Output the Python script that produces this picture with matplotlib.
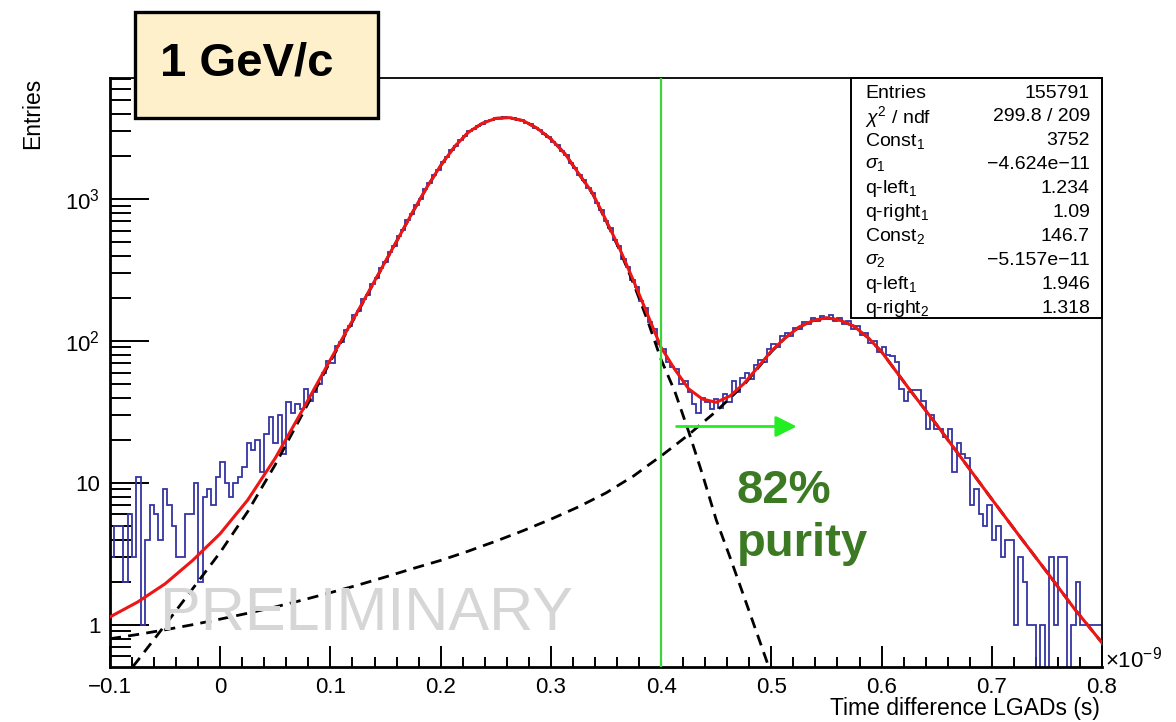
# Time difference between two LGADs at 1 GeV/c, log-scale histogram with fit
import numpy as np
import matplotlib.pyplot as plt
from matplotlib.patches import Rectangle
from matplotlib.ticker import FixedLocator, MultipleLocator, LogLocator, NullFormatter

plt.rcParams['font.family'] = ['Liberation Sans', 'DejaVu Sans']
plt.rcParams['mathtext.fontset'] = 'custom'
plt.rcParams['mathtext.rm'] = 'Liberation Sans'
plt.rcParams['mathtext.it'] = 'Liberation Sans:italic'
plt.rcParams['mathtext.bf'] = 'Liberation Sans:bold'

# histogram: 225 bins of 0.004 (x1e-9 s) between -0.1 and 0.8
x_lo, x_hi = -0.1, 0.8
counts = [
    3, 5, 5, 2, 6, 3, 11, 1, 4, 7,
    6, 4, 9, 7, 5, 3, 3, 6, 6, 10,
    2, 8, 9, 7, 11, 14, 10, 8, 10, 11,
    13, 19, 17, 20, 12, 22, 29, 19, 30, 16,
    37, 31, 36, 33, 46, 38, 44, 50, 60, 72,
    70, 92, 98, 119, 127, 152, 163, 197, 212, 254,
    276, 328, 358, 422, 466, 547, 605, 708, 785, 912,
    1008, 1168, 1287, 1470, 1610, 1823, 1975, 2210, 2380, 2605,
    2770, 3010, 3098, 3290, 3380, 3530, 3575, 3722, 3705, 3768,
    3716, 3724, 3618, 3596, 3430, 3352, 3170, 3068, 2855, 2748,
    2530, 2391, 2178, 2041, 1805, 1662, 1466, 1356, 1198, 1104,
    933, 830, 701, 622, 517, 463, 378, 333, 270, 239,
    191, 170, 135, 121, 95, 88, 71, 66, 64, 50,
    52, 44, 36, 31, 40, 37, 33, 39, 34, 42,
    37, 52, 44, 55, 60, 54, 68, 74, 71, 88,
    95, 91, 108, 113, 109, 124, 121, 136, 131, 146,
    138, 150, 143, 152, 139, 146, 132, 138, 122, 127,
    110, 114, 97, 100, 84, 90, 80, 78, 71, 46,
    38, 44, 45, 45, 38, 24, 30, 24, 24, 21,
    24, 12, 19, 16, 15, 7, 9, 6, 5, 7,
    4, 5, 3, 4, 4, 1, 3, 2, 1, 1,
    0, 1, 0, 3, 1, 3, 3, 0, 1, 2,
    1, 1, 1, 1, 1,
]

# fit curves
fit_x = [-0.1, -0.075, -0.05, -0.025, 0.0, 0.025, 0.05, 0.075, 0.1, 0.125,
         0.15, 0.175, 0.1875, 0.2, 0.2125, 0.225, 0.2375, 0.25, 0.2625, 0.275,
         0.2875, 0.3, 0.3125, 0.325, 0.3375, 0.35, 0.3625, 0.375, 0.3875, 0.4,
         0.4125, 0.425, 0.4375, 0.45, 0.4625, 0.475, 0.4875, 0.5, 0.5125, 0.525,
         0.5375, 0.55, 0.5625, 0.575, 0.5875, 0.6, 0.625, 0.65, 0.675, 0.7,
         0.725, 0.75, 0.775, 0.8]
fit_total = [1.14, 1.45, 1.95, 2.85, 4.4, 7.6, 15, 33, 74, 163,
             365, 820, 1210, 1720, 2330, 2950, 3400, 3700, 3740, 3560,
             3150, 2650, 2100, 1520, 1110, 710, 445, 265, 155, 90,
             63, 46, 39, 37, 41, 50, 65, 85, 105, 125,
             139, 146, 140, 127, 106, 84, 46, 25.7, 14.1, 7.7,
             4.24, 2.36, 1.30, 0.75]
# first component (main peak), drawn up to x = 0.5
comp1 = [0.32, 0.56, 1.0, 1.8, 3.25, 6.3, 13.5, 31, 72, 161,
         363, 818, 1207, 1717, 2327, 2947, 3397, 3696, 3736, 3556,
         3145, 2645, 2094, 1513, 1102, 701, 435, 253, 141, 74,
         44, 23, 11.5, 5.5, 3.0, 1.6, 0.85, 0.45]
# second component (late peak)
comp2 = [0.80, 0.857, 0.925, 1.005, 1.10, 1.21, 1.34, 1.50, 1.69, 1.91,
         2.18, 2.50, 2.67, 2.85, 3.07, 3.31, 3.59, 3.89, 4.24, 4.62,
         5.07, 5.56, 6.14, 6.79, 7.6, 8.51, 9.77, 11.2, 13.2, 15.5,
         18.4, 21.9, 26.5, 32, 39.6, 49, 64, 84, 105, 125,
         139, 146, 140, 127, 106, 84, 46, 25.7, 14.1, 7.7,
         4.24, 2.36, 1.30, 0.75]

cut = 0.4
arrow_from, arrow_to, arrow_y = 0.414, 0.523, 25

stat_names = ['Entries', r'$\chi^{2}$ / ndf', r'Const$_{1}$', r'$\sigma_{1}$', r'q-left$_{1}$',
              r'q-right$_{1}$', r'Const$_{2}$', r'$\sigma_{2}$', r'q-left$_{1}$', r'q-right$_{2}$']
stat_values = ['155791', '299.8 / 209', '3752', '\u22124.624e\u221211', '1.234',
               '1.09', '146.7', '\u22125.157e\u221211', '1.946', '1.318']

W, H = 1176, 722


def px(x, y):
    # pixel position (from top-left) -> figure fraction
    return x / W, 1 - y / H


fig = plt.figure(figsize=(W / 100, H / 100), dpi=100)
ax = fig.add_axes([110 / W, 55 / H, 992 / W, 589 / H])

edges = np.linspace(x_lo, x_hi, len(counts) + 1)

fig.text(*px(160, 630), 'PRELIMINARY', fontsize=44, color='#d6d6d6', zorder=0.5,
         ha='left', va='baseline')
ax.set_facecolor('none')
ax.stairs(counts, edges, baseline=None, color='#3434a4', lw=1.3, zorder=2)
ax.plot(fit_x[:len(comp1)], comp1, color='black', lw=2.0, ls=(0, (4, 2.6)), zorder=3)
ax.plot(fit_x, comp2, color='black', lw=2.0, ls=(0, (4, 2.6)), zorder=3)
ax.plot(fit_x, fit_total, color='#ee1515', lw=2.2, zorder=4)
ax.axvline(cut, color='#3bd43b', lw=1.6, zorder=5)
ax.annotate('', xy=(arrow_to, arrow_y), xytext=(arrow_from, arrow_y), zorder=6,
            arrowprops=dict(arrowstyle='-|>', color='#22ee22', lw=2.0, mutation_scale=32,
                            shrinkA=0, shrinkB=0))

ax.set_yscale('log')
ax.set_xlim(x_lo, x_hi)
ax.set_ylim(0.506, 7115)

xt = [-0.1, 0, 0.1, 0.2, 0.3, 0.4, 0.5, 0.6, 0.7, 0.8]
ax.xaxis.set_major_locator(FixedLocator(xt))
ax.set_xticklabels(['\u22120.1', '0', '0.1', '0.2', '0.3', '0.4', '0.5', '0.6', '0.7', '0.8'])
ax.xaxis.set_minor_locator(MultipleLocator(0.02))
ax.yaxis.set_major_locator(FixedLocator([1, 10, 100, 1000]))
ax.set_yticklabels(['1', '10', r'$10^{2}$', r'$10^{3}$'])
ax.yaxis.set_minor_locator(LogLocator(base=10, subs=range(2, 10)))
ax.yaxis.set_minor_formatter(NullFormatter())

ax.tick_params(which='both', direction='in', top=False, right=False, width=1.4,
               labelsize=16, colors='black')
ax.tick_params(axis='x', which='major', length=15, pad=7)
ax.tick_params(axis='x', which='minor', length=7.5)
ax.tick_params(axis='y', which='major', length=28, pad=7)
ax.tick_params(axis='y', which='minor', length=15)
for side in ['left', 'bottom']:
    ax.spines[side].set_linewidth(2.0)
for side in ['top', 'right']:
    ax.spines[side].set_linewidth(1.3)

fig.text(*px(1100, 708), 'Time difference LGADs (s)', fontsize=16.5, ha='right', va='center')
fig.text(*px(33, 78), 'Entries', fontsize=16.5, rotation=90, ha='center', va='top')
fig.text(*px(1105, 660), r'$\times10^{-9}$', fontsize=16, ha='left', va='center')

# momentum label box
fig.add_artist(Rectangle(px(135, 118), 243 / W, 106 / H, transform=fig.transFigure,
                         facecolor='#fdf0cb', edgecolor='black', lw=2.4, zorder=5))
fig.text(*px(160, 63), '1 GeV/c', fontsize=34, fontweight='bold', ha='left', va='center',
         zorder=6)

# purity label
fig.text(*px(737, 503), '82%', fontsize=34, fontweight='bold', color='#3b7a23',
         ha='left', va='baseline', zorder=6)
fig.text(*px(737, 556), 'purity', fontsize=34, fontweight='bold', color='#3b7a23',
         ha='left', va='baseline', zorder=6)

# stats box
fig.add_artist(Rectangle(px(851, 318), 251 / W, 240 / H, transform=fig.transFigure,
                         facecolor='white', edgecolor='black', lw=1.4, zorder=5))
for i, (name, val) in enumerate(zip(stat_names, stat_values)):
    yy = 93 + 23.9 * i
    fig.text(*px(865, yy), name, fontsize=14, ha='left', va='center', zorder=6)
    fig.text(*px(1090, yy), val, fontsize=14, ha='right', va='center', zorder=6)

fig.savefig('out.png', dpi=100)
